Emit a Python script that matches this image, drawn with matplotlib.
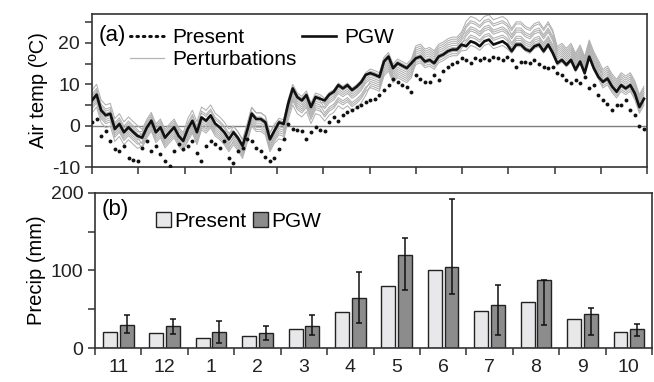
import numpy as np
import matplotlib
matplotlib.use("Agg")
import matplotlib.pyplot as plt
from matplotlib.lines import Line2D
from matplotlib.patches import Patch

plt.rcParams['font.family'] = ['Liberation Sans', 'DejaVu Sans']

# daily air temperature, sampled every 3 days from 1 Nov (deg C)
present = [1.0, 1.6, -2.5, -1.2, -3.7, -5.7, -6.1, -4.9, -7.8, -8.2, -8.6, -5.3, -3.7, -6.1, -4.9, -6.9,
           -8.6, -9.8, -6.1, -4.5, -5.7, -5.0, -3.7, -6.5, -8.6, -4.9, -3.7, -4.5, -5.3, -3.7, -7.8,
           -9.0, -6.1, -5.3, -3.3, -3.7, -5.3, -6.1, -7.5, -8.6, -7.8, -5.7, -3.3, 0.4, -0.8, -1.0, -1.2,
           -3.3, -1.6, -0.4, -1.0, -1.2, 0.8, 2.0, 1.2, 2.5, 3.3, 3.7, 4.5, 4.9, 5.7, 6.1,
           6.5, 7.5, 8.5, 9.8, 11.4, 10.6, 9.8, 9.4, 8.2, 12.3, 11.4, 10.6, 10.6, 12.3, 11.0, 13.1,
           14.3, 15.0, 15.5, 16.3, 15.9, 15.1, 16.3, 15.9, 16.3, 15.9, 16.7, 16.3, 15.9, 16.7, 15.9,
           14.3, 15.5, 15.5, 15.1, 15.9, 14.8, 14.3, 13.9, 14.3, 12.7, 12.3, 11.0, 10.2, 11.0, 10.2,
           11.8, 9.0, 9.8, 7.4, 6.1, 5.3, 3.7, 4.9, 4.9, 6.1, 3.7, 2.5, 0.0, -0.8]
pgw = [6.1, 7.5, 3.7, 2.5, 2.9, -0.8, 0.4, -1.6, -0.4, -1.5, -2.5, -2.9, -0.5, 1.2, -1.6, -0.4,
       -2.9, -1.6, -0.4, -2.5, -3.7, -0.8, 1.2, -1.6, 2.0, 1.2, 2.5, 0.5, -0.4, -1.6, -3.3,
       -1.6, -3.0, -4.9, -1.2, 2.9, 1.6, 1.6, 0.8, -3.3, -1.2, 0.8, 0.4, 5.3, 9.0, 6.9, 6.1,
       7.4, 4.5, 6.9, 6.5, 6.1, 7.5, 8.2, 9.8, 9.0, 9.8, 8.6, 9.4, 10.5, 12.3, 12.7,
       12.3, 11.8, 15.5, 16.7, 13.9, 15.1, 14.5, 13.9, 15.1, 16.3, 16.7, 15.5, 15.9, 15.1, 16.7, 17.2,
       18.0, 18.4, 18.4, 19.6, 19.2, 20.4, 20.0, 19.2, 20.4, 20.8, 19.6, 20.0, 20.4, 19.6, 18.0,
       19.6, 19.6, 18.5, 18.0, 19.2, 19.6, 18.0, 19.6, 17.6, 15.1, 15.9, 14.7, 15.9, 13.5, 15.5,
       12.7, 16.7, 13.9, 11.8, 10.6, 11.4, 9.5, 8.2, 9.8, 9.0, 9.8, 7.8, 4.5, 6.5]

# monthly deltas of each perturbation run relative to PGW (Nov..Oct)
pert_deltas = [
    [2.5, 2.0, 2.5, 1.5, 1.0, 0.5, 1.0, 3.0, 6.0, 5.5, 4.0, 3.0],
    [1.0, 1.5, 1.0, 1.5, 0.0, 0.0, 0.5, 2.5, 5.0, 5.0, 3.0, 2.5],
    [1.5, 0.5, 1.5, 0.5, 0.5, -1.0, -0.5, 1.5, 4.5, 4.0, 3.5, 1.5],
    [0.0, 1.0, 0.0, -0.5, -1.0, -0.5, 0.0, 2.0, 3.5, 3.0, 2.0, 2.0],
    [0.5, -0.5, -0.5, 0.0, -0.5, -2.0, -1.5, 1.0, 3.0, 3.5, 2.5, 0.5],
    [-1.0, 0.0, -1.0, -1.5, -2.0, -1.5, -1.0, 0.0, 2.5, 2.0, 1.0, 1.0],
    [-0.5, -1.5, -1.5, -1.0, -1.5, -3.0, -2.5, 0.5, 1.5, 1.5, 1.5, -0.5],
    [-2.0, -1.0, -2.0, -2.5, -3.0, -3.5, -2.0, -1.0, 1.0, 0.5, 0.0, 0.0],
    [-1.5, -2.5, -2.5, -2.0, -2.5, -4.0, -3.5, -0.5, 0.0, 1.0, 0.5, -1.0],
    [-3.0, -2.0, -3.0, -3.0, -4.0, -5.0, -3.0, -1.5, -1.0, -0.5, -0.5, -1.5],
]

# monthly precipitation (mm)
months = ['11', '12', '1', '2', '3', '4', '5', '6', '7', '8', '9', '10']
precip_present = [21, 19, 13, 15, 25, 46, 80, 101, 48, 59, 38, 21]
precip_pgw = [30, 28, 21, 19, 29, 64, 120, 104, 55, 88, 44, 24]
precip_lo = [20, 18, 7, 10, 17, 32, 75, 70, 17, 30, 17, 16]
precip_hi = [42, 37, 35, 28, 42, 98, 142, 192, 81, 88, 51, 31]

days = np.arange(len(pgw)) * 3
month_len = 365 / 12
month_idx = np.minimum((days // month_len).astype(int), 11)

fig = plt.figure(figsize=(6.54, 3.82), dpi=100)
ax1 = fig.add_axes([0.1407, 0.5628, 0.8486, 0.4006])
ax2 = fig.add_axes([0.1453, 0.089, 0.8517, 0.4058])

# (a) air temperature
ax1.axhline(0, color='#7f7f7f', lw=1.0, zorder=1)
pgw_arr = np.array(pgw)
for d in pert_deltas:
    ax1.plot(days, pgw_arr + np.array(d)[month_idx], color='#b0b0b0', lw=0.75, zorder=2)
ax1.plot(days, pgw, color='#111111', lw=1.9, zorder=4)
ax1.plot(days, present, color='#111111', lw=0, marker='o', ms=2.8, mew=0, zorder=3)
ax1.set_xlim(0, 365)
ax1.set_ylim(-10, 27)
ax1.set_xticks(np.arange(13) * month_len)
ax1.set_xticklabels([])
ax1.set_yticks([-10, -5, 0, 5, 10, 15, 20, 25])
ax1.set_yticklabels(['-10', '', '0', '', '10', '', '20', ''])
ax1.set_ylabel('Air temp (ºC)', fontsize=14.5, labelpad=3)
ax1.text(0.012, 0.93, '(a)', transform=ax1.transAxes, fontsize=16, va='top', ha='left')

h_present = Line2D([], [], color='#111111', lw=2.2, linestyle=(0, (0.5, 1.6)), dash_capstyle='round')
h_pert = Line2D([], [], color='#b5b5b5', lw=0.9)
h_pgw = Line2D([], [], color='#111111', lw=1.9)
ax1.legend([h_present, h_pert, h_pgw], ['Present', 'Perturbations', 'PGW'], ncol=2,
           loc='upper left', bbox_to_anchor=(0.035, 1.03), frameon=False, fontsize=15,
           handlelength=1.6, handletextpad=0.4, columnspacing=0.3, labelspacing=0.15)

# (b) precipitation
x = np.arange(len(months)) + 0.5
w = 0.3
ax2.bar(x - 0.18, precip_present, w, color='#e8e8ea', edgecolor='#222222', lw=1.0, zorder=2)
pgw_p = np.array(precip_pgw)
yerr = [pgw_p - np.array(precip_lo), np.array(precip_hi) - pgw_p]
ax2.bar(x + 0.18, precip_pgw, w, color='#8c8c8c', edgecolor='#222222', lw=1.0, zorder=2)
ax2.errorbar(x + 0.18, precip_pgw, yerr=yerr, fmt='none', ecolor='#111111', elinewidth=1.1,
             capsize=2.5, capthick=1.1, zorder=3)
ax2.set_xlim(0, 12)
ax2.set_ylim(0, 200)
ax2.set_xticks(np.arange(13))
ax2.set_xticklabels([])
ax2.set_xticks(x, minor=True)
ax2.set_xticklabels(months, minor=True)
ax2.tick_params(axis='x', which='minor', length=0, pad=8)
ax2.set_yticks([0, 50, 100, 150, 200])
ax2.set_yticklabels(['0', '', '100', '', '200'])
ax2.set_ylabel('Precip (mm)', fontsize=14.5, labelpad=3)
ax2.text(0.012, 0.96, '(b)', transform=ax2.transAxes, fontsize=16, va='top', ha='left')
ax2.legend([Patch(facecolor='#e8e8ea', edgecolor='#222222'), Patch(facecolor='#8c8c8c', edgecolor='#222222')],
           ['Present', 'PGW'], ncol=2, loc='upper left', bbox_to_anchor=(0.075, 1.0),
           frameon=False, fontsize=15, handlelength=0.75, handleheight=0.75,
           handletextpad=0.15, columnspacing=0.3)

for ax in (ax1, ax2):
    for s in ax.spines.values():
        s.set_color('#333333')
        s.set_linewidth(1.2)
    ax.tick_params(which='both', direction='out', color='#333333', width=1.1, labelsize=14,
                   labelcolor='#222222')
    ax.tick_params(which='major', length=5)

fig.savefig('out.png', dpi=100)
